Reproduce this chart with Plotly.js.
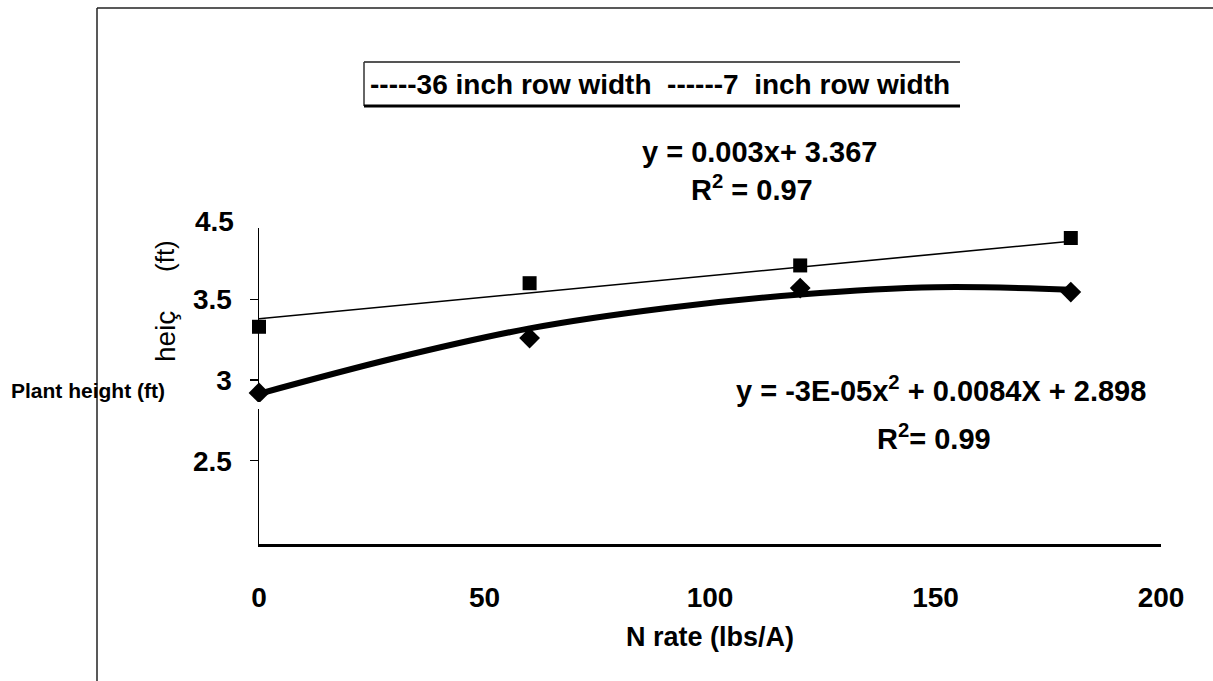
<!DOCTYPE html>
<html>
<head>
<meta charset="utf-8">
<script src="https://cdn.plot.ly/plotly-3.0.1.min.js"></script>
<style>html,body{margin:0;padding:0;background:#fff;}#chart{width:1213px;height:681px;}</style>
</head>
<body>
<div id="chart"></div>
<script>
// ---- data ----
const nRate = [0, 60, 120, 180];
const height36 = [3.33, 3.60, 3.71, 3.88];      // squares, 36 inch rows
const height7 = [2.92, 3.26, 3.57, 3.545];      // diamonds, 7 inch rows
const trend36X = [0, 180];
const trend36Y = [3.38, 3.86];                  // straight fitted line
const trend7X = [0, 30, 60, 90, 120, 150, 180];
const trend7Y = [2.915, 3.135, 3.32, 3.445, 3.53, 3.575, 3.56]; // curved fitted line
const yTickVals = [2.5, 3, 3.5];
const yTickText = ['2.5', '3', '3.5'];
const xTickVals = [0, 50, 100, 150, 200];
const xTickText = ['0', '50', '100', '150', '200'];

// ---- layout geometry (pixels) ----
const L = 259, T = 228, W = 902, H = 316;
const X = px => (px - L) / W;
const Y = py => (T + H - py) / H;
const FONT = '"Liberation Sans", Arial, sans-serif';

const traces = [
  {x: trend36X, y: trend36Y, mode: 'lines', line: {color: '#000', width: 1.6}, hoverinfo: 'skip', showlegend: false, cliponaxis: false},
  {x: trend7X, y: trend7Y, mode: 'lines', line: {color: '#000', width: 6, shape: 'spline'}, hoverinfo: 'skip', showlegend: false, cliponaxis: false},
  {x: nRate, y: height36, mode: 'markers', marker: {symbol: 'square', size: 14, color: '#000'}, showlegend: false, cliponaxis: false},
  {x: nRate, y: height7, mode: 'markers', marker: {symbol: 'diamond', size: 16, color: '#000'}, showlegend: false, cliponaxis: false}
];

const ann = (text, px, py, size, opts) => Object.assign({
  text: text, xref: 'paper', yref: 'paper', x: X(px), y: Y(py), showarrow: false,
  xanchor: 'center', yanchor: 'middle', font: {family: FONT, size: size, color: '#000'}
}, opts || {});
const bold = size => ({family: FONT, size: size, color: '#000', weight: 'bold'});

const layout = {
  width: 1213, height: 681,
  margin: {l: L, r: 1213 - L - W, t: T, b: 681 - T - H},
  paper_bgcolor: '#fff', plot_bgcolor: '#fff',
  font: {family: FONT, color: '#000'},
  xaxis: {
    range: [0, 200], tickvals: xTickVals, ticktext: xTickText,
    showgrid: false, zeroline: false, showline: true, linecolor: '#000', linewidth: 2.5,
    ticks: '', ticklabelstandoff: 27,
    tickfont: bold(28),
    title: {text: 'N rate (lbs/A)', font: bold(27), standoff: 15}
  },
  yaxis: {
    range: [2 - 0.016, 3.942], tickvals: yTickVals, ticktext: yTickText,
    showgrid: false, zeroline: false, showline: true, linecolor: '#000', linewidth: 1.5,
    ticks: 'outside', ticklen: 8, tickwidth: 1.5, tickcolor: '#000', ticklabelstandoff: 12,
    tickfont: bold(28)
  },
  annotations: [
    ann('4.5', 236, 222, 28, {xanchor: 'right', font: bold(28)}),
    ann('Plant height (ft)', 9, 390, 21, {xanchor: 'left', font: bold(21)}),
    ann('(ft)', 165, 256, 26, {textangle: -90}),
    ann('heiç', 165, 337, 28, {textangle: -90}),
    ann('-----36 inch row width  ------7  inch row width', 368, 84, 28, {xanchor: 'left', font: bold(28)}),
    ann('y = 0.003x+ 3.367', 759, 152, 29, {font: bold(29)}),
    ann('R<sup>2</sup> = 0.97', 752, 188, 29, {font: bold(29)}),
    ann('y = -3E-05x<sup>2</sup> + 0.0084X + 2.898', 941, 389, 29, {font: bold(29)}),
    ann('R<sup>2</sup>= 0.99', 934, 437, 29, {font: bold(29)})
  ],
  shapes: [
    // outer frame (left and top edges)
    {type: 'line', xref: 'paper', yref: 'paper', x0: X(97), x1: X(97), y0: Y(8), y1: Y(681), line: {color: '#222', width: 1.5}},
    {type: 'line', xref: 'paper', yref: 'paper', x0: X(97), x1: X(1213), y0: Y(8), y1: Y(8), line: {color: '#222', width: 1.5}},
    // legend box (open on the right)
    {type: 'line', xref: 'paper', yref: 'paper', x0: X(364), x1: X(960), y0: Y(62), y1: Y(62), line: {color: '#555', width: 2}},
    {type: 'line', xref: 'paper', yref: 'paper', x0: X(364), x1: X(364), y0: Y(62), y1: Y(106), line: {color: '#333', width: 1.5}},
    {type: 'line', xref: 'paper', yref: 'paper', x0: X(364), x1: X(960), y0: Y(106), y1: Y(106), line: {color: '#000', width: 3}},
    // small break in the y axis
    {type: 'rect', xref: 'paper', yref: 'paper', x0: X(254), x1: X(264), y0: Y(409), y1: Y(402), line: {width: 0}, fillcolor: '#fff', layer: 'above'}
  ]
};

Plotly.newPlot('chart', traces, layout, {staticPlot: true, displayModeBar: false});
</script>
</body>
</html>
